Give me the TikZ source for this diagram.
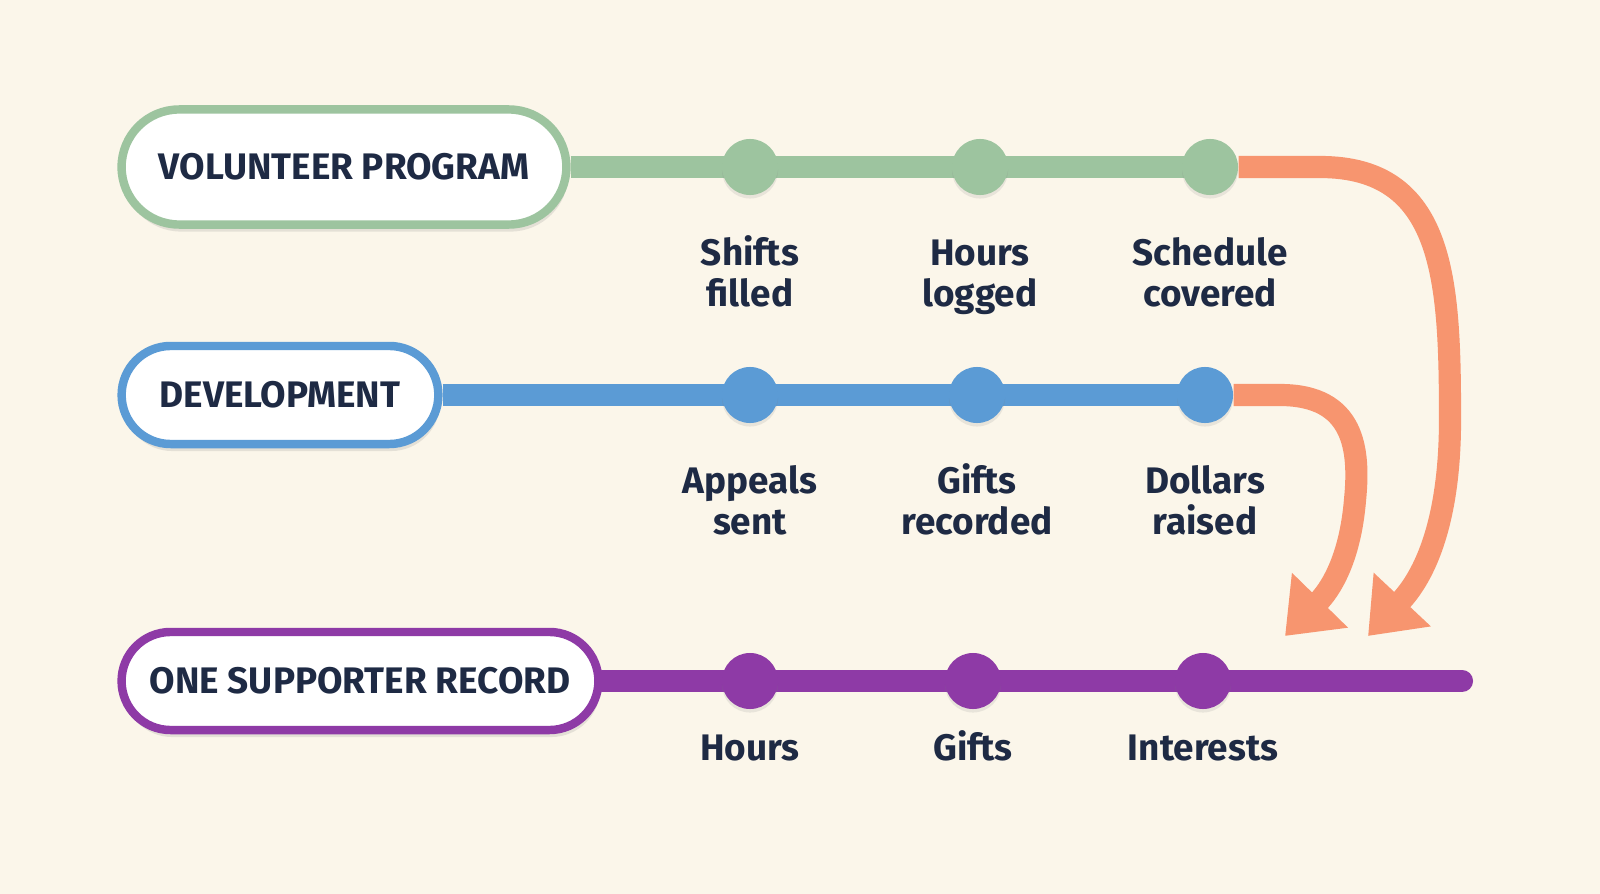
\documentclass[tikz,border=0pt]{standalone}
\usepackage{fontspec}
\setmainfont{Fira Sans}
\usetikzlibrary{shapes.misc,arrows.meta,backgrounds,shadows}
\definecolor{paper}{HTML}{FBF6EA}
\definecolor{ink}{HTML}{1E2A44}
\definecolor{volgreen}{HTML}{9DC49F}
\definecolor{devblue}{HTML}{5B9BD5}
\definecolor{recpurple}{HTML}{8E3AA6}
\definecolor{flow}{HTML}{F7956F}
\tikzset{
  pill/.style={rounded rectangle,draw=#1,line width=2.4pt,fill=white,
    minimum height=0.98cm,text=ink,font=\fontsize{10.5}{12}\selectfont\bfseries,
    drop shadow={opacity=0.18,shadow xshift=0.5pt,shadow yshift=-2pt}},
  stop/.style={circle,fill=#1,minimum size=0.56cm,inner sep=0pt,
    drop shadow={opacity=0.15,shadow xshift=0pt,shadow yshift=-1pt}},
  track/.style={line width=6.3pt,draw=#1},
  label/.style={text=ink,align=center,anchor=base,
    font=\fontsize{10.5}{11.4}\selectfont\bfseries},
  flowline/.style={draw=flow,line width=6.3pt,
    -{Triangle[length=0.5cm,width=0.75cm]}}
}
\begin{document}
\begin{tikzpicture}[x=0.01cm,y=-0.01cm]
  \useasboundingbox (0,0) rectangle (1600,894);
  \begin{scope}[on background layer]
    \fill[paper] (0,0) rectangle (1600,894);
  \end{scope}
  % volunteer row
  \node[pill=volgreen,minimum width=4.68cm,minimum height=1.15cm] (vol) at (344,167) {VOLUNTEER PROGRAM};
  \node[stop=volgreen] (v1) at (750,167) {};
  \node[stop=volgreen] (v2) at (980,167) {};
  \node[stop=volgreen] (v3) at (1210,167) {};
  \node[label] (lv1) at (750,306) {Shifts\\filled};
  \node[label] (lv2) at (980,306) {Hours\\logged};
  \node[label] (lv3) at (1210,306) {Schedule\\covered};
  % development row
  \node[pill=devblue,minimum width=3.4cm] (dev) at (280,395) {DEVELOPMENT};
  \node[stop=devblue] (d1) at (750,395) {};
  \node[stop=devblue] (d2) at (977,395) {};
  \node[stop=devblue] (d3) at (1205,395) {};
  \node[label] (ld1) at (750,534) {Appeals\\sent};
  \node[label] (ld2) at (977,534) {Gifts\\recorded};
  \node[label] (ld3) at (1205,534) {Dollars\\raised};
  % record row
  \node[pill=recpurple,minimum width=5.0cm] (rec) at (360,681) {ONE SUPPORTER RECORD};
  \node[stop=recpurple] (r1) at (750,681) {};
  \node[stop=recpurple] (r2) at (973,681) {};
  \node[stop=recpurple] (r3) at (1203,681) {};
  \coordinate (rend) at (1462,681);
  \node[label] (lr1) at (750,760) {Hours};
  \node[label] (lr2) at (973,760) {Gifts};
  \node[label] (lr3) at (1203,760) {Interests};
  \begin{scope}[on background layer]
    \draw[track=volgreen] (vol.east) -- (v3.center);
    \draw[track=devblue] (dev.east) -- (d3.center);
    \draw[track=recpurple,line cap=round] (rec.east) -- (rend);
  \end{scope}
  % flows into the record
  \draw[flowline] (v3.east) -- (1320,167)
    .. controls (1445,167) and (1450,280) .. (1450,420)
    .. controls (1450,510) and (1430,570) .. (1368,636);
  \draw[flowline] (d3.east) -- (1280,395)
    .. controls (1355,395) and (1360,450) .. (1355,500)
    .. controls (1350,560) and (1330,590) .. (1285,636);
\end{tikzpicture}
\end{document}
